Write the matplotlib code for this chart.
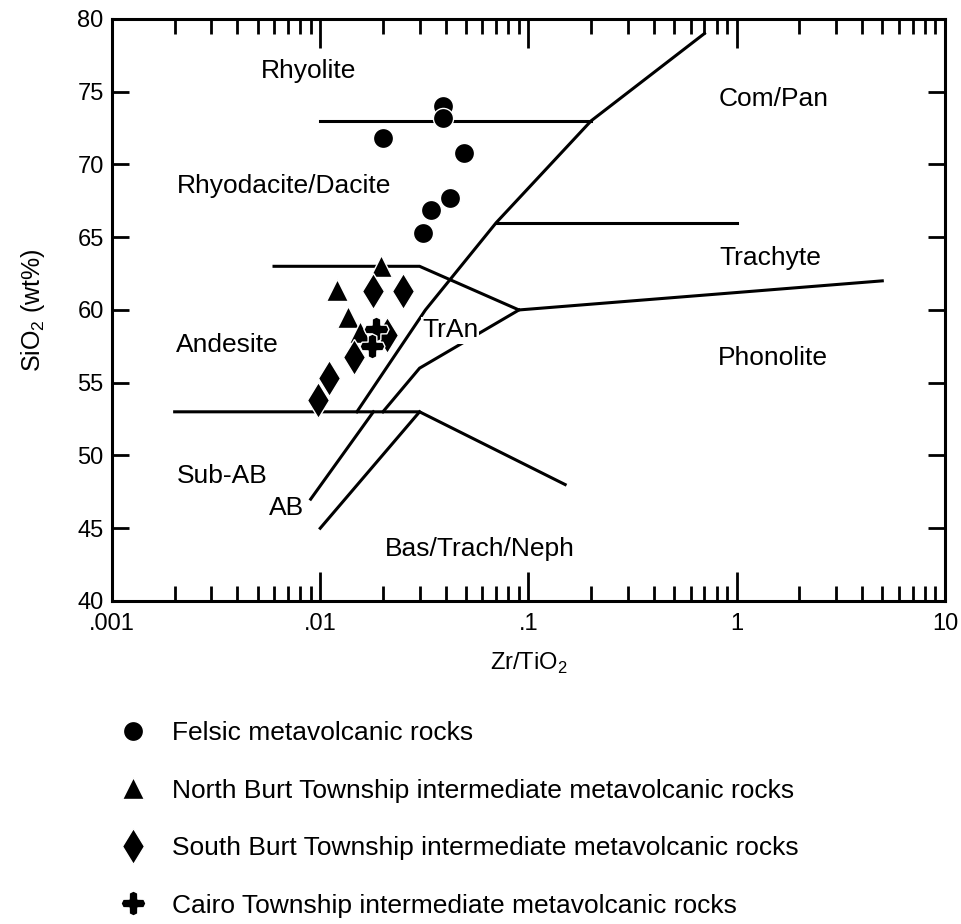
import numpy as np
import matplotlib
matplotlib.use('Agg')
import matplotlib.pyplot as plt
from matplotlib.path import Path
from matplotlib.ticker import LogLocator, NullFormatter

plt.rcParams['font.family'] = ['Liberation Sans', 'DejaVu Sans']
plt.rcParams['mathtext.fontset'] = 'custom'
plt.rcParams['mathtext.rm'] = 'Liberation Sans'

# sample data (Zr/TiO2, SiO2 wt%)
felsic_x = [0.020, 0.039, 0.039, 0.049, 0.042, 0.034, 0.031]
felsic_y = [71.8, 74.0, 73.2, 70.8, 67.7, 66.9, 65.3]
north_x = [0.0195, 0.012, 0.0136, 0.0155]
north_y = [63.0, 61.4, 59.5, 58.5]
south_x = [0.018, 0.025, 0.0145, 0.011, 0.0098, 0.021]
south_y = [61.3, 61.3, 56.8, 55.3, 53.8, 58.3]
cairo_x = [0.0185, 0.0177]
cairo_y = [58.7, 57.5]

# field boundaries (Winchester & Floyd 1977)
boundaries = [
    [(0.01, 73), (0.2, 73)],
    [(0.7, 79), (0.2, 73), (0.07, 66), (0.032, 60), (0.015, 53)],
    [(0.07, 66), (1, 66)],
    [(0.006, 63), (0.03, 63), (0.09, 60), (5, 62)],
    [(0.09, 60), (0.03, 56), (0.02, 53)],
    [(0.002, 53), (0.03, 53), (0.15, 48)],
    [(0.018, 53), (0.009, 47)],
    [(0.03, 53), (0.01, 45)],
]

field_names = ['Rhyolite', 'Com/Pan', 'Rhyodacite/Dacite', 'Trachyte', 'Andesite',
               'TrAn', 'Phonolite', 'Sub-AB', 'AB', 'Bas/Trach/Neph']
field_pos = [(0.0088, 76.4), (1.5, 74.5), (0.0067, 68.5), (1.45, 63.6), (0.0036, 57.6),
             (0.042, 58.6), (1.49, 56.7), (0.0034, 48.6), (0.0069, 46.4), (0.0585, 43.6)]

series_labels = ['Felsic metavolcanic rocks',
                 'North Burt Township intermediate metavolcanic rocks',
                 'South Burt Township intermediate metavolcanic rocks',
                 'Cairo Township intermediate metavolcanic rocks']

# four-lobed marker for the Cairo samples
ang = np.linspace(0, 2 * np.pi, 17)[:-1] + np.pi / 2
rad = np.tile([1.0, 0.9, 0.5, 0.9], 4)
verts = np.column_stack([rad * np.cos(ang), rad * np.sin(ang)])
verts = np.vstack([verts, verts[:1]])
cross = Path(verts, closed=True)

fig = plt.figure(figsize=(9.62, 9.24), dpi=100)
ax = fig.add_axes([0.1164, 0.3496, 0.8659, 0.6299])

for seg in boundaries:
    xs, ys = zip(*seg)
    ax.plot(xs, ys, color='k', lw=2.2, solid_joinstyle='miter', zorder=2)

for name, (px, py) in zip(field_names, field_pos):
    bb = dict(facecolor='white', edgecolor='none', pad=1) if name == 'TrAn' else None
    ax.text(px, py, name, fontsize=19, ha='center', va='center', bbox=bb, zorder=3)

mk = dict(linestyle='none', color='k', markeredgecolor='white', markeredgewidth=1.0, zorder=4)
h1, = ax.plot(felsic_x, felsic_y, marker='o', markersize=14.5, **mk)
h2, = ax.plot(north_x, north_y, marker='^', markersize=16, **mk)
h3, = ax.plot(south_x, south_y, marker='d', markersize=18, **mk)
h4, = ax.plot(cairo_x, cairo_y, marker=cross, markersize=18, **mk)

ax.set_xscale('log')
ax.set_xlim(0.001, 10)
ax.set_ylim(40, 80)
ax.set_xticks([0.001, 0.01, 0.1, 1, 10], ['.001', '.01', '.1', '1', '10'])
ax.xaxis.set_minor_locator(LogLocator(base=10, subs=np.arange(2, 10)))
ax.xaxis.set_minor_formatter(NullFormatter())
ax.set_yticks(np.arange(40, 81, 5))
ax.tick_params(which='both', direction='in', top=True, right=True, width=2, labelsize=17)
ax.tick_params(axis='x', which='major', length=21, pad=9)
ax.tick_params(axis='x', which='minor', length=11)
ax.tick_params(axis='y', which='major', length=12, pad=6)
for sp in ax.spines.values():
    sp.set_linewidth(2.2)

ax.set_xlabel('Zr/TiO$_\\mathregular{2}$', fontsize=17, labelpad=11)
ax.set_ylabel('SiO$_\\mathregular{2}$ (wt%)', fontsize=18, labelpad=22)

fig.legend([h1, h2, h3, h4], series_labels, loc='upper left', bbox_to_anchor=(0.1247, 0.2196),
           frameon=False, fontsize=19, handlelength=1.0, handletextpad=0.97,
           labelspacing=1.27, borderpad=0, borderaxespad=0, numpoints=1)

fig.savefig('out.png', dpi=100)
